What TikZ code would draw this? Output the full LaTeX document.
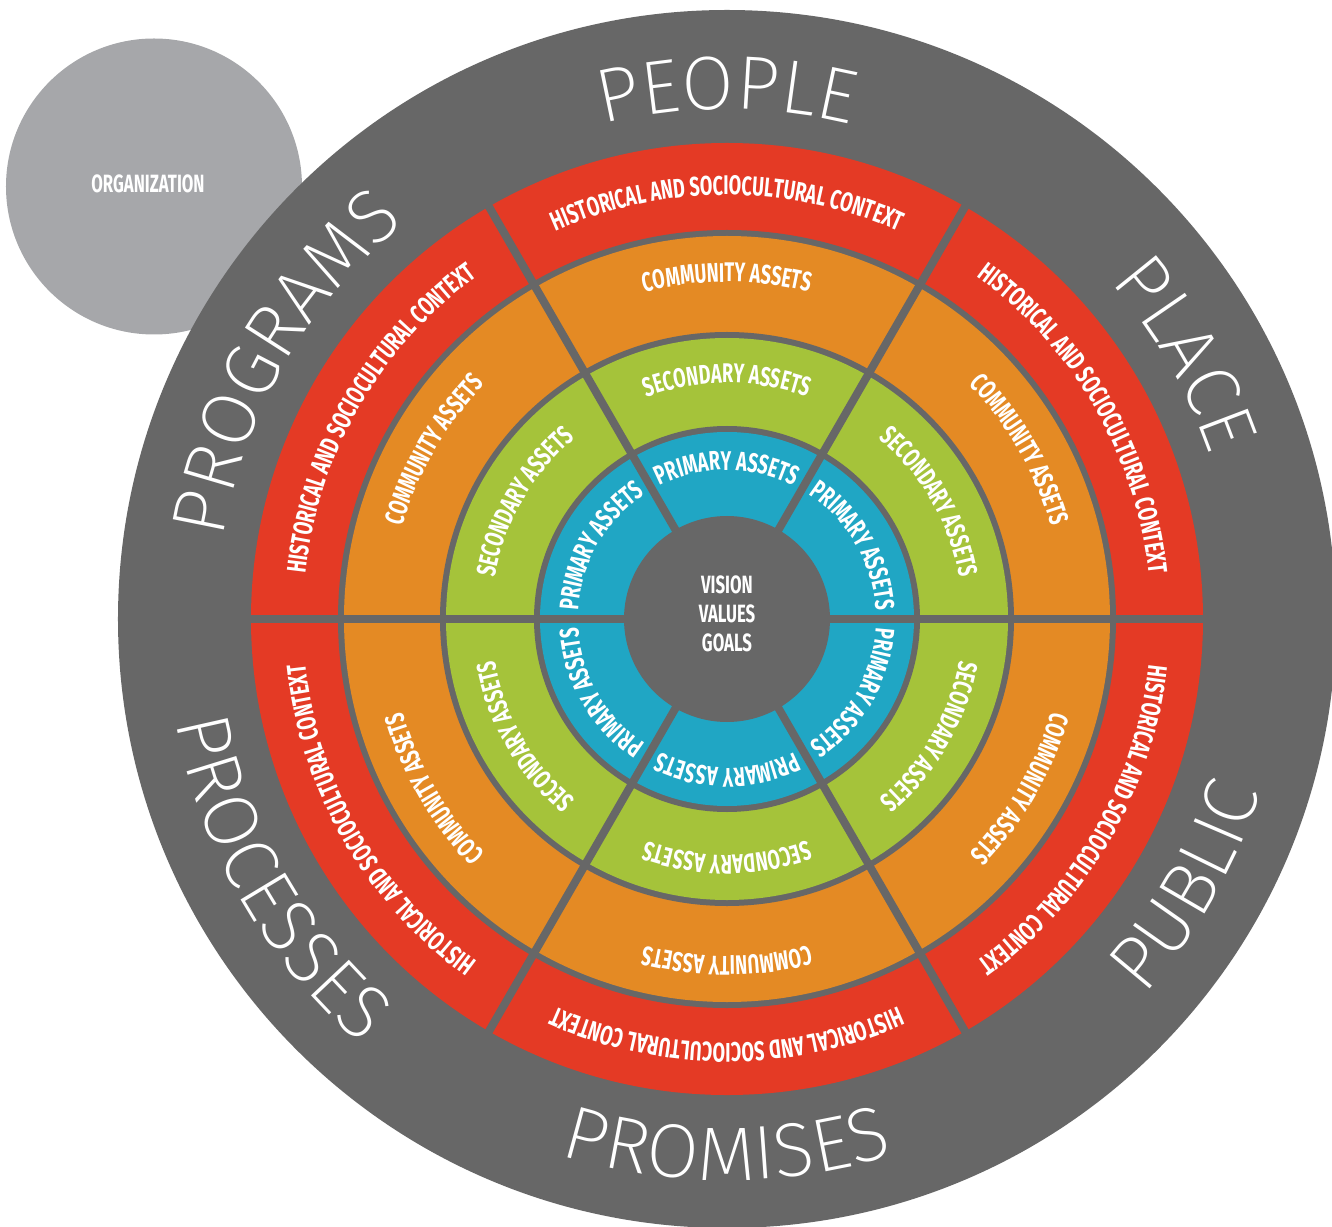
\documentclass[tikz,border=0pt]{standalone}
\usepackage{fontspec}
\usetikzlibrary{decorations.text}
\newfontfamily\thinfont{Fira Sans ExtraLight}
\newfontfamily\condfont{Fira Sans}[FakeStretch=0.67]
\definecolor{dg}{HTML}{676767}
\definecolor{orggray}{HTML}{A6A7AA}
\definecolor{ringred}{HTML}{E43A25}
\definecolor{ringorange}{HTML}{E48A24}
\definecolor{ringgreen}{HTML}{A5C33A}
\definecolor{ringblue}{HTML}{20A6C4}
\newcommand\ringfont{\condfont\bfseries\fontsize{27pt}{27pt}\selectfont}
\newcommand\outerfont{\thinfont\fontsize{76pt}{76pt}\selectfont}
\newcommand\ringlabel[3]{\path[decorate,decoration={text along path,text align=center,text color=white,text={|\ringfont|#3}}] ({#1+80}:#2pt) arc[start angle={#1+80},end angle={#1-80},radius=#2pt];}
\newcommand\outerup[2]{\path[decorate,decoration={text along path,text align=center,text color=white,text={|\outerfont|#2}}] ({#1+80}:510pt) arc[start angle={#1+80},end angle={#1-80},radius=510pt];}
\newcommand\outerdown[2]{\path[decorate,decoration={text along path,text align=center,text color=white,text={|\outerfont|#2}}] ({#1-80}:561pt) arc[start angle={#1-80},end angle={#1+80},radius=561pt];}
\tikzset{
  centertext/.style={text=white,font=\condfont\bfseries\fontsize{25pt}{25pt}\selectfont,anchor=base,inner sep=0pt},
  divider/.style={dg,line width=8pt}
}
\begin{document}
\begin{tikzpicture}[x=1pt,y=1pt]
\useasboundingbox (-727,-607) rectangle (605,619);
% organization circle
\node[circle,fill=orggray,minimum size=296pt,inner sep=0pt] (orgdisc) at (-573,432.5) {};
\node[text=white,font=\condfont\bfseries\fontsize{25pt}{25pt}\selectfont,inner sep=0pt] (orgtext) at (-579,435) {ORGANIZATION};
% big circle and rings
\fill[dg] (0,0) circle[radius=609pt];
\fill[ringred] (0,0) circle[radius=476pt];
\fill[dg] (0,0) circle[radius=389pt];
\fill[ringorange] (0,0) circle[radius=383pt];
\fill[dg] (0,0) circle[radius=287pt];
\fill[ringgreen] (0,0) circle[radius=281pt];
\fill[dg] (0,0) circle[radius=193pt];
\fill[ringblue] (0,0) circle[radius=187pt];
\fill[dg] (0,0) circle[radius=103pt];
% dividers
\foreach \a in {0,60,...,300} \draw[divider] (0,0) -- (\a:482pt);
% center text
\node[centertext] (vision) at (0,26) {VISION};
\node[centertext] (values) at (0,-3.7) {VALUES};
\node[centertext] (goals) at (0,-32) {GOALS};
% ring labels
\foreach \c in {90,30,-30,-90,-150,150} {
  \ringlabel{\c}{149}{PRIMARY ASSETS}
  \ringlabel{\c}{236}{SECONDARY ASSETS}
  \ringlabel{\c}{337}{COMMUNITY ASSETS}
  \ringlabel{\c}{424}{HISTORICAL AND SOCIOCULTURAL CONTEXT}
}
% outer labels
\outerup{90}{PEOPLE}
\outerup{30}{PLACE}
\outerup{150}{PROGRAMS}
\outerdown{-30}{PUBLIC}
\outerdown{-90}{PROMISES}
\outerdown{-150}{PROCESSES}
\end{tikzpicture}
\end{document}
